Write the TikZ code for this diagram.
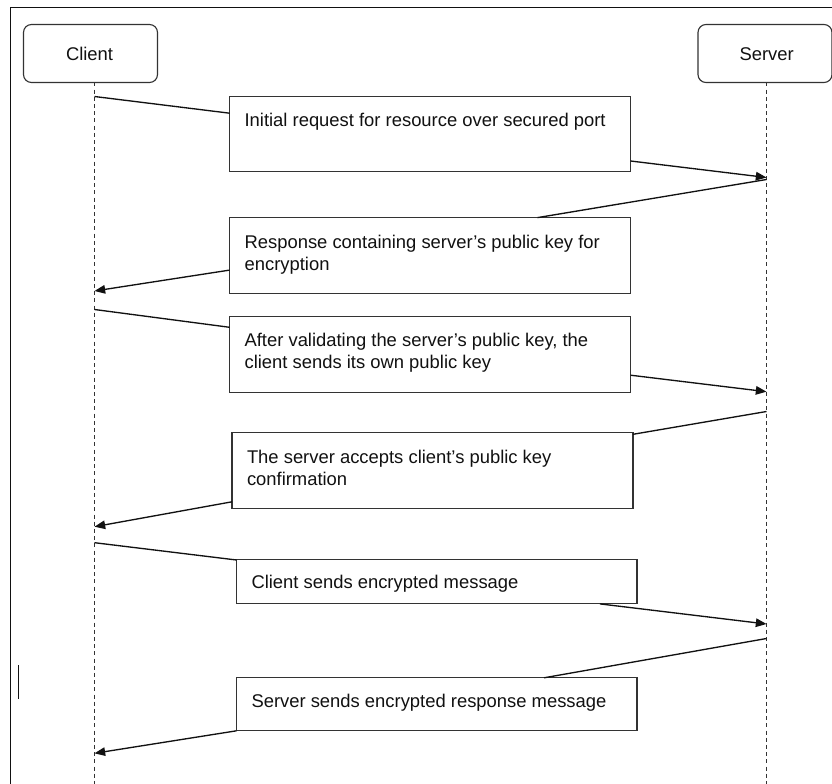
\documentclass[tikz,border=0pt]{standalone}
\usepackage{fontspec}
\setmainfont{Liberation Sans}
\usetikzlibrary{calc,arrows.meta}
\definecolor{ink}{HTML}{111111}
\definecolor{edge}{HTML}{333333}
\begin{document}
\begin{tikzpicture}[x=0.75pt,y=-0.75pt,
  every node/.style={inner sep=0pt, outer sep=0pt},
  actor/.style={draw=edge, line width=0.85pt, rounded corners=6pt, fill=white,
    minimum width={134*0.75pt}, minimum height={58*0.75pt}},
  msgbox/.style={draw=edge, line width=0.85pt, fill=white, anchor=north west},
  txt/.style={anchor=base west, font=\fontsize{13.8pt}{16.5pt}\selectfont, text=ink},
  life/.style={draw=edge, line width=0.9pt, dash pattern=on 3pt off 2.4pt},
  conn/.style={draw=ink, line width=1pt},
  arr/.style={conn, -{Triangle[length=8pt,width=6.4pt]}},
  frame/.style={draw=ink, line width=1.1pt}
]
\useasboundingbox (0,0) rectangle (832,784);
\fill[white] (0,0) rectangle (832,784);

% frame
\draw[frame] (10.5,784) -- (10.5,7.5) -- (832,7.5);
% stray cursor bar
\draw[draw=ink, line width=1.4pt] (18.5,665) -- (18.5,699);

% actors
\node[actor] (client) at (90.5,53.5) {};
\node[actor] (server) at (765,53.5) {};
\node[txt] (clientT) at (66,61) {Client};
\node[txt] (serverT) at (739.5,61) {Server};

% lifelines
\coordinate (cltop) at (94.5,82.5);
\coordinate (clbot) at (94.5,784);
\coordinate (sltop) at (766.5,82.5);
\coordinate (slbot) at (766.5,784);
\draw[life] (cltop) -- (clbot);
\draw[life] (sltop) -- (slbot);

% message boxes
\node[msgbox, minimum width={401*0.75pt}, minimum height={74.5*0.75pt}] (m1) at (229.6,96.7) {};
\node[msgbox, minimum width={401*0.75pt}, minimum height={75.8*0.75pt}] (m2) at (229.6,217.6) {};
\node[msgbox, minimum width={401*0.75pt}, minimum height={75.5*0.75pt}] (m3) at (229.6,316.7) {};
\node[msgbox, minimum width={401*0.75pt}, minimum height={76*0.75pt}] (m4) at (232,432.8) {};
\node[msgbox, minimum width={400.5*0.75pt}, minimum height={44.5*0.75pt}] (m5) at (236.5,559.4) {};
\node[msgbox, minimum width={400.5*0.75pt}, minimum height={53*0.75pt}] (m6) at (236.5,677.8) {};

% texts
\node[txt] (t1) at ($(m1.north west)+(15,30.3)$) {Initial request for resource over secured port};
\node[txt] (t2a) at ($(m2.north west)+(15,30.5)$) {Response containing server’s public key for};
\node[txt] (t2b) at ($(m2.north west)+(15,52.5)$) {encryption};
\node[txt] (t3a) at ($(m3.north west)+(15,30)$) {After validating the server’s public key, the};
\node[txt] (t3b) at ($(m3.north west)+(15,52)$) {client sends its own public key};
\node[txt] (t4a) at ($(m4.north west)+(15,30.5)$) {The server accepts client’s public key};
\node[txt] (t4b) at ($(m4.north west)+(15,52.5)$) {confirmation};
\node[txt] (t5) at ($(m5.north west)+(15,29)$) {Client sends encrypted message};
\node[txt] (t6) at ($(m6.north west)+(15,30)$) {Server sends encrypted response message};

% lifeline anchor points
\coordinate (a1) at (94.5,96.5);
\coordinate (b1) at (766.5,177.5);
\coordinate (b2) at (766.5,179.5);
\coordinate (a2) at (94.5,291);
\coordinate (a3) at (94.5,309.5);
\coordinate (b3) at (766.5,391.7);
\coordinate (b4) at (766.5,411.5);
\coordinate (a4) at (94.5,526.7);
\coordinate (a5) at (94.5,542.7);
\coordinate (b5) at (766.5,624);
\coordinate (b6) at (766.5,638.5);
\coordinate (a6) at (94.5,753.3);

% connectors
\draw[conn] (a1) -- ($(m1.north west)+(0,16.5)$);
\draw[arr] ($(m1.north east)+(0,64.3)$) -- (b1);
\draw[conn] (b2) -- ($(m2.north west)+(308,0)$);
\draw[arr] ($(m2.north west)+(0,52.5)$) -- (a2);
\draw[conn] (a3) -- ($(m3.north west)+(0,10.6)$);
\draw[arr] ($(m3.north east)+(0,58.5)$) -- (b3);
\draw[conn] (b4) -- ($(m4.north east)+(0,1.5)$);
\draw[arr] ($(m4.north west)+(0,69)$) -- (a4);
\draw[conn] (a5) -- ($(m5.north west)+(0,0.6)$);
\draw[arr] ($(m5.south west)+(363.5,0)$) -- (b5);
\draw[conn] (b6) -- ($(m6.north west)+(307.5,0)$);
\draw[arr] (m6.south west) -- (a6);
\end{tikzpicture}
\end{document}
